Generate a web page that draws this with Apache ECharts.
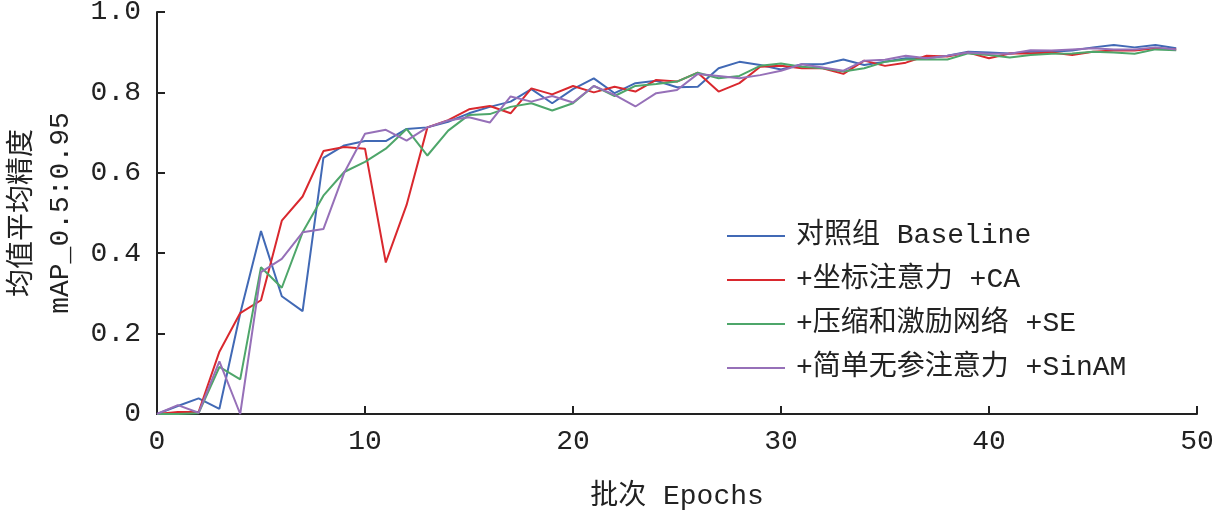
<!DOCTYPE html>
<html>
<head>
<meta charset="utf-8">
<script src="https://cdn.jsdelivr.net/npm/echarts@6/dist/echarts.min.js"></script>
<style>html,body{margin:0;padding:0;background:#fff;}#c{width:1212px;height:510px;}</style>
</head>
<body>
<div id="c"></div>
<script>
const epochs = Array.from({length: 50}, (_, i) => i);
const seriesNames = ['对照组 Baseline', '+坐标注意力 +CA', '+压缩和激励网络 +SE', '+简单无参注意力 +SinAM'];
const baseline = [0, 0.02, 0.039, 0.013, 0.25, 0.455, 0.293, 0.256, 0.637, 0.668, 0.679, 0.679, 0.709, 0.713, 0.727, 0.748, 0.764, 0.777, 0.808, 0.773, 0.808, 0.835, 0.798, 0.823, 0.829, 0.813, 0.814, 0.86, 0.876, 0.868, 0.857, 0.87, 0.87, 0.882, 0.868, 0.876, 0.885, 0.885, 0.891, 0.901, 0.899, 0.897, 0.901, 0.901, 0.904, 0.912, 0.918, 0.912, 0.918, 0.91];
const ca = [0, 0.005, 0.005, 0.155, 0.251, 0.283, 0.481, 0.541, 0.654, 0.664, 0.66, 0.377, 0.52, 0.713, 0.731, 0.758, 0.766, 0.748, 0.81, 0.795, 0.816, 0.8, 0.814, 0.802, 0.831, 0.827, 0.849, 0.802, 0.823, 0.864, 0.866, 0.86, 0.86, 0.846, 0.879, 0.866, 0.874, 0.891, 0.889, 0.899, 0.885, 0.897, 0.897, 0.899, 0.893, 0.901, 0.904, 0.904, 0.91, 0.907];
const se = [0, 0, 0.002, 0.117, 0.086, 0.365, 0.314, 0.452, 0.543, 0.602, 0.627, 0.66, 0.709, 0.643, 0.705, 0.744, 0.746, 0.764, 0.773, 0.755, 0.773, 0.816, 0.791, 0.816, 0.821, 0.827, 0.849, 0.835, 0.841, 0.866, 0.872, 0.864, 0.86, 0.852, 0.86, 0.876, 0.882, 0.882, 0.882, 0.897, 0.893, 0.887, 0.893, 0.896, 0.897, 0.901, 0.899, 0.896, 0.907, 0.905];
const sinam = [0, 0.022, 0.003, 0.131, 0, 0.353, 0.386, 0.452, 0.46, 0.6, 0.697, 0.707, 0.68, 0.713, 0.73, 0.738, 0.725, 0.79, 0.777, 0.791, 0.775, 0.816, 0.794, 0.765, 0.798, 0.806, 0.846, 0.841, 0.835, 0.843, 0.854, 0.87, 0.862, 0.854, 0.879, 0.881, 0.891, 0.885, 0.891, 0.899, 0.896, 0.896, 0.905, 0.904, 0.907, 0.91, 0.907, 0.907, 0.912, 0.907];
const colors = ['#4169b5', '#d9282e', '#4ea66a', '#9670b8'];
const allValues = [baseline, ca, se, sinam];

const FONT = "'Liberation Mono', 'Noto Sans CJK SC', monospace";
const TXT = '#222';

const chart = echarts.init(document.getElementById('c'));
chart.setOption({
  animation: false,
  backgroundColor: '#fff',
  grid: {left: 157, top: 12, width: 1040, height: 402, containLabel: false, outerBoundsMode: 'none'},
  legend: {
    orient: 'vertical',
    left: 722,
    top: 216,
    icon: 'rect',
    itemWidth: 58,
    itemHeight: 2,
    itemGap: 14,
    textStyle: {fontFamily: FONT, fontSize: 28, color: TXT, lineHeight: 30, padding: [0, 0, 0, 6]},
    data: seriesNames
  },
  xAxis: {
    type: 'value', min: 0, max: 50, interval: 10,
    name: '批次 Epochs', nameLocation: 'middle', nameGap: 69,
    nameTextStyle: {fontFamily: FONT, fontSize: 28, color: TXT},
    axisLine: {lineStyle: {color: TXT, width: 2}},
    axisTick: {inside: true, length: 8, lineStyle: {color: TXT, width: 2}},
    axisLabel: {fontFamily: FONT, fontSize: 28, color: TXT, margin: 14},
    splitLine: {show: false}
  },
  yAxis: {
    type: 'value', min: 0, max: 1, interval: 0.2,
    name: '均值平均精度\nmAP_0.5:0.95', nameLocation: 'middle', nameGap: 76, nameRotate: 90,
    nameTextStyle: {fontFamily: FONT, fontSize: 28, color: TXT, lineHeight: 38},
    axisLine: {show: true, lineStyle: {color: TXT, width: 2}},
    axisTick: {show: true, inside: true, length: 8, lineStyle: {color: TXT, width: 2}},
    axisLabel: {fontFamily: FONT, fontSize: 28, color: TXT, margin: 16,
      formatter: v => v === 0 ? '0' : v.toFixed(1)},
    splitLine: {show: false}
  },
  series: seriesNames.map((n, k) => ({
    name: n, type: 'line', symbol: 'none', color: colors[k],
    lineStyle: {width: 2, color: colors[k]},
    data: epochs.map((e, i) => [e, allValues[k][i]])
  }))
});
</script>
</body>
</html>
